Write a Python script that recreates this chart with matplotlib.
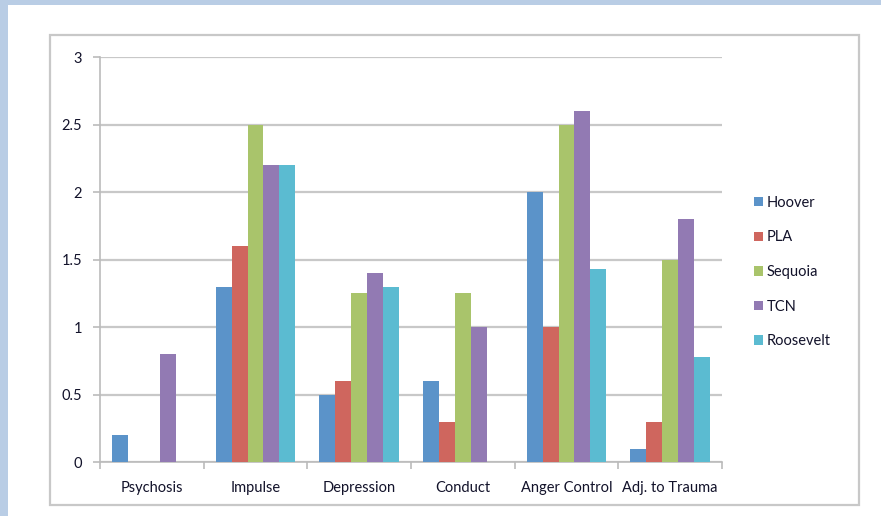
import numpy as np
import matplotlib.pyplot as plt
from matplotlib.patches import Rectangle

plt.rcParams['font.family'] = ['Lato', 'DejaVu Sans']

categories = ["Psychosis", "Impulse", "Depression", "Conduct", "Anger Control", "Adj. to Trauma"]
hoover = [0.2, 1.3, 0.5, 0.6, 2.0, 0.1]
pla = [0.0, 1.6, 0.6, 0.3, 1.0, 0.3]
sequoia = [0.0, 2.5, 1.25, 1.25, 2.5, 1.5]
tcn = [0.8, 2.2, 1.4, 1.0, 2.6, 1.8]
roosevelt = [0.0, 2.2, 1.3, 0.0, 1.43, 0.78]

series = [("Hoover", hoover, "#5B93C9"),
          ("PLA", pla, "#CF665E"),
          ("Sequoia", sequoia, "#A9C46B"),
          ("TCN", tcn, "#927AB3"),
          ("Roosevelt", roosevelt, "#5BBBD1")]

TXT = "#12122A"

W, H = 881, 516
fig = plt.figure(figsize=(W / 100, H / 100), dpi=100)
fig.patch.set_facecolor("#B9CDE5")

# white slide area and the grey chart frame
fig.patches.append(Rectangle((8 / W, 0), 1, 1 - 5 / H, transform=fig.transFigure,
                             facecolor="white", edgecolor="none", zorder=-2))
fig.patches.append(Rectangle((50 / W, 1 - 505 / H), (859 - 50) / W, (505 - 35) / H,
                             transform=fig.transFigure, facecolor="none",
                             edgecolor="#C8C8C8", lw=1.6, zorder=-1))

ax = fig.add_axes([100 / W, 1 - 462 / H, 622 / W, 405 / H])
ax.set_facecolor("none")
ax.set_zorder(2)

x = np.arange(len(categories))
bw = 1 / 6.5
for i, (name, vals, col) in enumerate(series):
    ax.bar(x + (i - 2) * bw, vals, width=bw, color=col, label=name, zorder=3)

ax.set_xlim(-0.5, len(categories) - 0.5)
ax.set_ylim(0, 3)
ax.set_yticks(np.arange(0, 3.01, 0.5))
ax.set_yticklabels(["0", "0.5", "1", "1.5", "2", "2.5", "3"])
ax.yaxis.grid(True, color="#C8C8C8", lw=1.6, zorder=0)
ax.set_axisbelow(True)

ax.set_xticks(x)
ax.set_xticklabels(categories)
ax.set_xticks(np.arange(-0.5, len(categories)), minor=True)
ax.tick_params(axis="x", which="major", length=0, pad=14, labelsize=10.5, labelcolor=TXT)
ax.tick_params(axis="x", which="minor", length=5, width=1.2, color="#BBBBBB")
ax.tick_params(axis="y", length=5, width=1.2, color="#BBBBBB", pad=8, labelsize=10.5,
               labelcolor=TXT)

for s in ["top", "right"]:
    ax.spines[s].set_visible(False)
for s in ["left", "bottom"]:
    ax.spines[s].set_color("#BBBBBB")
    ax.spines[s].set_linewidth(1.2)

leg = ax.legend(loc="center left", bbox_to_anchor=(1.03, 0.469), frameon=False,
                fontsize=10.5, handlelength=0.6, handleheight=0.6, handletextpad=0.3,
                labelspacing=1.41)
for t in leg.get_texts():
    t.set_color(TXT)

fig.savefig("out.png", dpi=100)
